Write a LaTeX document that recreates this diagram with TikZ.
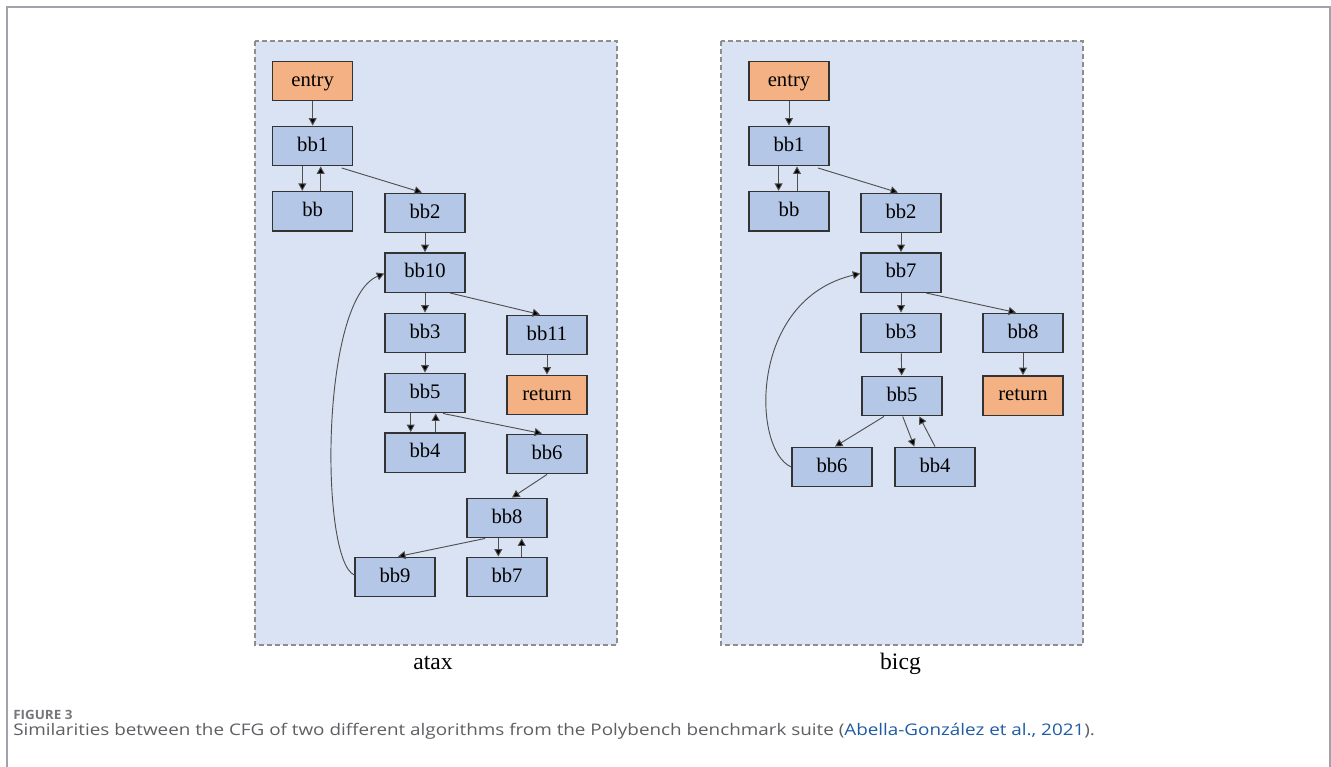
\documentclass[tikz,border=0pt]{standalone}
\usepackage{fontspec}
\setmainfont{Liberation Serif}
\newfontfamily\capsans{Open Sans}
\usetikzlibrary{arrows.meta,calc}
\definecolor{blkfill}{HTML}{B4C7E7}
\definecolor{termfill}{HTML}{F4B183}
\definecolor{panelfill}{HTML}{DAE3F3}
\definecolor{paneledge}{HTML}{8E8E8E}
\definecolor{frameedge}{HTML}{A2A3AA}
\definecolor{edgecol}{HTML}{505050}
\definecolor{captext}{HTML}{5E5F62}
\definecolor{capref}{HTML}{1F5CA3}
\tikzset{
  blk/.style={rectangle, draw=black!80, line width=1.1pt, fill=blkfill,
    minimum width=60pt, minimum height=29.6pt, inner sep=0pt,
    font=\fontsize{15.5}{18}\selectfont, text height=0.78em, text depth=0pt},
  term/.style={blk, fill=termfill},
  flow/.style={draw=edgecol, line width=0.7pt,
    -{Triangle[length=5.6pt,width=6pt,fill=black]}},
  panel/.style={draw=paneledge, fill=panelfill, line width=0.8pt,
    dash pattern=on 3.5pt off 2.5pt},
  ptitle/.style={anchor=base, font=\fontsize{17.7}{20}\selectfont},
}
\begin{document}
\begin{tikzpicture}[x=0.75pt,y=-0.75pt]
\useasboundingbox (0,0) rectangle (1331,767);
\fill[white] (0,0) rectangle (1331,767);

% page frame (open at the bottom)
\draw[frameedge, line width=1.5pt] (7,767) -- (7,7) -- (1330,7) -- (1330,767);

% panels
\draw[panel] (255,41) rectangle (617,645);
\draw[panel] (721,41) rectangle (1083,645);

% ---------- atax ----------
\node[term] (aentry) at (312.7,81)  {entry};
\node[blk]  (abb1)   at (312.7,146) {bb1};
\node[blk]  (abb)    at (312.7,211.3) {bb};
\node[blk]  (abb2)   at (425,213)   {bb2};
\node[blk]  (abb10)  at (425,272.5) {bb10};
\node[blk]  (abb3)   at (425,333)   {bb3};
\node[blk]  (abb11)  at (547,335)   {bb11};
\node[blk]  (abb5)   at (425,393)   {bb5};
\node[term] (aret)   at (547,395)   {return};
\node[blk]  (abb4)   at (425,452.5) {bb4};
\node[blk]  (abb6)   at (547,454)   {bb6};
\node[blk]  (abb8)   at (507,518)   {bb8};
\node[blk]  (abb9)   at (395,577)   {bb9};
\node[blk]  (abb7)   at (507,577)   {bb7};
\node[ptitle] (atitle) at (433,669) {atax};

\draw[flow] (aentry) -- (abb1);
\draw[flow] ($(abb1.south)+(-10.4,0)$) -- ($(abb.north)+(-10.4,0)$);
\draw[flow] ($(abb.north)+(8,0)$) -- ($(abb1.south)+(8,0)$);
\draw[flow] ($(abb1.south)+(29,1.5)$) -- ($(abb2.north)+(-3,0)$);
\draw[flow] (abb2) -- (abb10);
\draw[flow] (abb10) -- (abb3);
\draw[flow] ($(abb10.south)+(25,0)$) -- ($(abb11.north)+(-7,0)$);
\draw[flow] (abb3) -- (abb5);
\draw[flow] (abb11) -- (aret);
\draw[flow] ($(abb5.south)+(-14.3,0)$) -- ($(abb4.north)+(-14.3,0)$);
\draw[flow] ($(abb4.north)+(10.7,0)$) -- ($(abb5.south)+(10.7,0)$);
\draw[flow] ($(abb5.south)+(18,0)$) -- ($(abb6.north)+(-5,0)$);
\draw[flow] (abb6.south) -- ($(abb8.north)+(5,0)$);
\draw[flow] ($(abb8.south)+(-22,0)$) -- ($(abb9.north)+(3,0)$);
\draw[flow] ($(abb8.south)+(-8.7,0)$) -- ($(abb7.north)+(-8.7,0)$);
\draw[flow] ($(abb7.north)+(14.7,0)$) -- ($(abb8.south)+(14.7,0)$);
\draw[flow] ($(abb9.west)+(0,-2)$) .. controls (320,560) and (320,300) .. ($(abb10.west)+(0,1)$);

% ---------- bicg ----------
\node[term] (bentry) at (789,81)    {entry};
\node[blk]  (bbb1)   at (789,146)   {bb1};
\node[blk]  (bbb)    at (789,211.3) {bb};
\node[blk]  (bbb2)   at (901,213)   {bb2};
\node[blk]  (bbb7)   at (901,272.5) {bb7};
\node[blk]  (bbb3)   at (901,333)   {bb3};
\node[blk]  (bbb8)   at (1023,333)  {bb8};
\node[blk]  (bbb5)   at (902,396)   {bb5};
\node[term] (bret)   at (1023,395.5) {return};
\node[blk]  (bbb6)   at (832,467)   {bb6};
\node[blk]  (bbb4)   at (935,467)   {bb4};
\node[ptitle] (btitle) at (900.5,669) {bicg};

\draw[flow] (bentry) -- (bbb1);
\draw[flow] ($(bbb1.south)+(-10.4,0)$) -- ($(bbb.north)+(-10.4,0)$);
\draw[flow] ($(bbb.north)+(8,0)$) -- ($(bbb1.south)+(8,0)$);
\draw[flow] ($(bbb1.south)+(29,1.5)$) -- ($(bbb2.north)+(-3,0)$);
\draw[flow] (bbb2) -- (bbb7);
\draw[flow] (bbb7) -- (bbb3);
\draw[flow] ($(bbb7.south)+(25,0)$) -- ($(bbb8.north)+(-7,0)$);
\draw[flow] (bbb8) -- (bret);
\draw[flow] (bbb3) -- (bbb5);
\draw[flow] ($(bbb5.south)+(-18,0)$) -- ($(bbb6.north)+(3,0)$);
\draw[flow] ($(bbb5.south)+(0.7,0)$) -- ($(bbb4.north)+(-20.7,0)$);
\draw[flow] (bbb4.north) -- ($(bbb5.south)+(17.3,0)$);
\draw[flow] (bbb6.west) .. controls (752,450) and (748,300) .. ($(bbb7.west)+(0,1)$);

% ---------- caption ----------
\node[anchor=base west, inner sep=0pt, text=captext!85!white,
      font=\capsans\bfseries\fontsize{9.6}{11}\selectfont] (capnum) at (13,719)
  {\scalebox{1.05}[1]{FIGURE 3}};
\node[anchor=base west, inner sep=0pt, text=captext,
      font=\capsans\fontsize{12}{14}\selectfont] (captxt) at (13,735.5)
  {\scalebox{1.178}[1]{Similarities between the CFG of two different algorithms from the Polybench benchmark suite (\textcolor{capref}{Abella-González et al., 2021}).}};
\end{tikzpicture}
\end{document}
